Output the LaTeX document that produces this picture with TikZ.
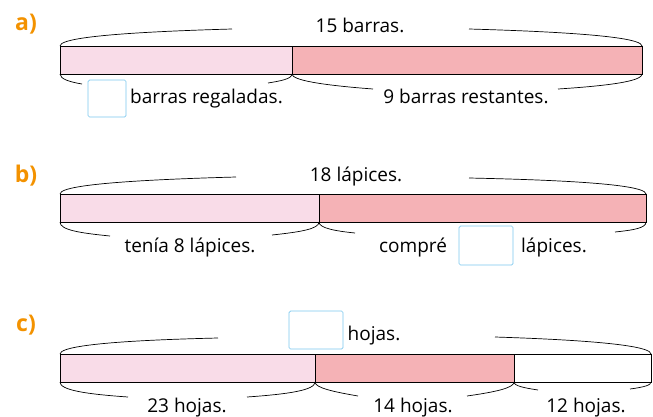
\documentclass[tikz,border=0pt]{standalone}
\usepackage{fontspec}
\setmainfont{Open Sans}
\definecolor{lpink}{HTML}{F9DCE8}
\definecolor{dpink}{HTML}{F5B2B6}
\definecolor{boxblue}{HTML}{7CC8EE}
\definecolor{lorange}{HTML}{F39200}
\begin{document}
\begin{tikzpicture}[x=1pt,y=-1pt,
  txt/.style={font=\fontsize{19}{20}\selectfont, inner sep=0pt, anchor=base},
  lbl/.style={font=\fontsize{23}{24}\selectfont\bfseries, text=lorange, inner sep=0pt, anchor=base},
  seg/.style={draw=black, line width=0.8pt},
  brace/.style={draw=black, line width=0.7pt},
  ansbox/.style={draw=boxblue, line width=0.7pt, rounded corners=1.5pt, fill=white}]
\useasboundingbox (0,0) rectangle (653,416);
% ---------- a ----------
\node[lbl] (la) at (26,30) {a)};
\path[seg, fill=lpink] (60,46) rectangle (292,74);
\path[seg, fill=dpink] (292,46) rectangle (642,74);
\draw[brace] (60,46) .. controls (60,40) and (90,33) .. (232,29);
\draw[brace] (469,29) .. controls (610,33) and (642,40) .. (642,46);
\node[txt] (ta) at (360,32) {15 barras.};
\draw[brace] (60,74) .. controls (60,79) and (70,82) .. (82,84);
\draw[brace] (268,83) .. controls (280,81) and (292,79) .. (292,74);
\draw[brace] (292,74) .. controls (292,80) and (320,85) .. (373,89);
\draw[brace] (558,89) .. controls (620,85) and (642,80) .. (642,74);
\node[ansbox, minimum width=38pt, minimum height=37pt, inner sep=0pt] (ba) at (107,98.5) {};
\node[txt, anchor=base west] (ta1) at (130,103) {barras regaladas.};
\node[txt] (ta2) at (466,103) {9 barras restantes.};
% ---------- b ----------
\node[lbl] (lb) at (26,182) {b)};
\path[seg, fill=lpink] (60,194) rectangle (319,222);
\path[seg, fill=dpink] (319,194) rectangle (646,222);
\draw[brace] (60,194) .. controls (60,188) and (90,181) .. (236,177);
\draw[brace] (469,178) .. controls (614,181) and (646,188) .. (646,194);
\node[txt] (tb) at (356,181) {18 lápices.};
\draw[brace] (60,222) .. controls (60,230) and (80,233) .. (110,236);
\draw[brace] (272,235) .. controls (300,232) and (319,229) .. (319,222);
\draw[brace] (319,222) .. controls (319,228) and (335,231) .. (355,233);
\draw[brace] (615,232) .. controls (634,230) and (646,228) .. (646,222);
\node[txt] (tb1) at (190,252) {tenía 8 lápices.};
\node[txt] (tb2) at (413,252) {compré};
\node[ansbox, minimum width=54pt, minimum height=39pt, inner sep=0pt] (bb) at (486,245.5) {};
\node[txt] (tb3) at (554,252) {lápices.};
% ---------- c ----------
\node[lbl] (lc) at (26,331) {c)};
\path[seg, fill=lpink] (60,354) rectangle (315,382);
\path[seg, fill=dpink] (315,354) rectangle (514,382);
\path[seg, fill=white] (514,354) rectangle (651,382);
\draw[brace] (60,354) .. controls (60,348) and (90,341) .. (218,338);
\draw[brace] (495,337) .. controls (620,341) and (651,348) .. (651,354);
\node[ansbox, minimum width=54pt, minimum height=38pt, inner sep=0pt] (bc) at (316,330) {};
\node[txt] (tc) at (374,340) {hojas.};
\draw[brace] (60,382) .. controls (60,390) and (85,394) .. (128,397);
\draw[brace] (247,397) .. controls (290,394) and (315,390) .. (315,382);
\draw[brace] (315,382) .. controls (315,388) and (335,392) .. (358,396);
\draw[brace] (467,396) .. controls (495,392) and (514,388) .. (514,382);
\draw[brace] (514,382) .. controls (514,386) and (525,388) .. (538,390);
\draw[brace] (630,389) .. controls (645,387) and (651,385) .. (651,382);
\node[txt] (tc1) at (187,412) {23 hojas.};
\node[txt] (tc2) at (413,412) {14 hojas.};
\node[txt] (tc3) at (586,412) {12 hojas.};
\end{tikzpicture}
\end{document}
